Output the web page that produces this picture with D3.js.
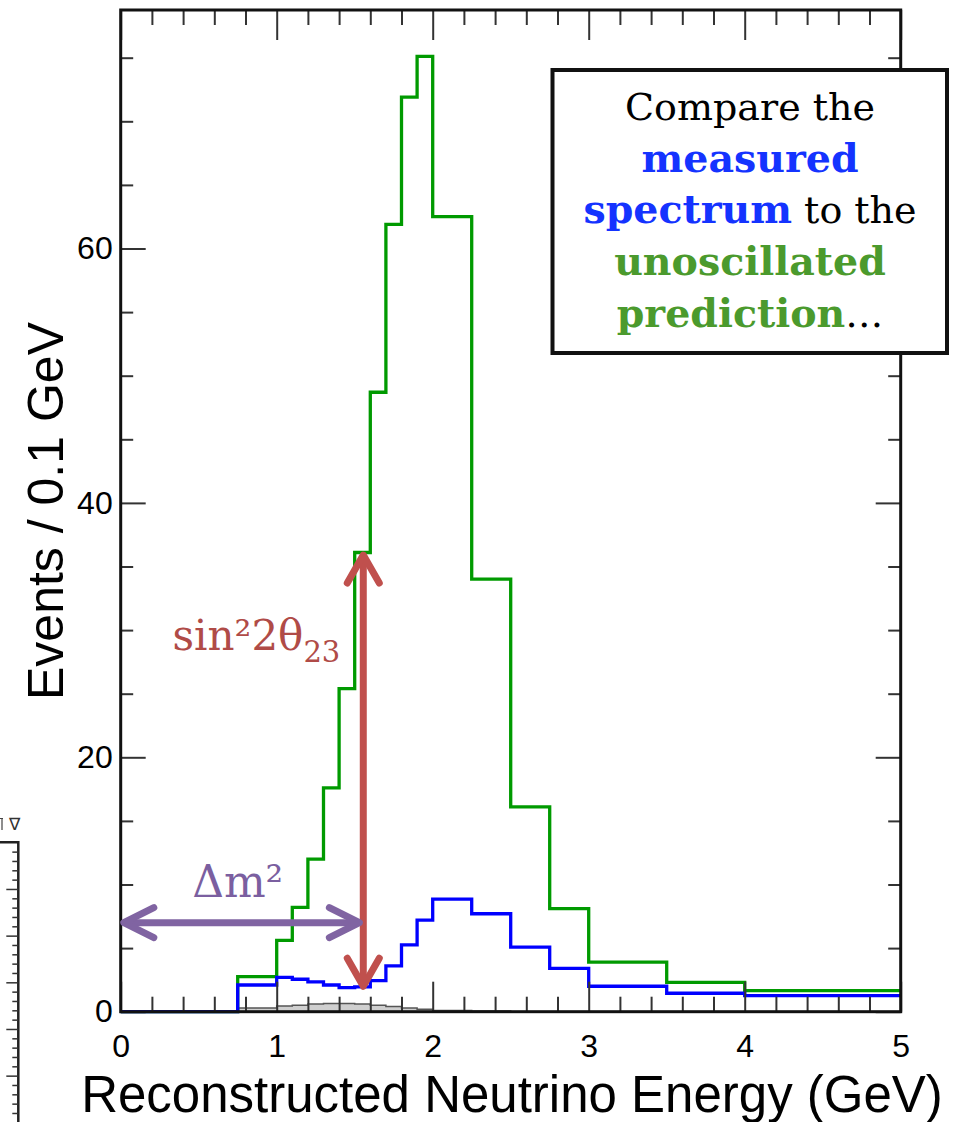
<!DOCTYPE html>
<html>
<head>
<meta charset="utf-8">
<script src="https://cdn.jsdelivr.net/npm/d3@7"></script>
<style>
  html, body { margin: 0; padding: 0; background: #fff; }
  svg { display: block; }
</style>
</head>
<body>
<svg id="chart" width="953" height="1122"></svg>
<script>
// ---------------- DATA ----------------
const binEdges = [0, 0.75, 1.0, 1.1, 1.2, 1.3, 1.4, 1.5, 1.6, 1.7, 1.8, 1.9, 2.0, 2.25, 2.5, 2.75, 3.0, 3.5, 4.0, 5.0];
const unoscillated = [0, 2.75, 5.6, 8.2, 12.0, 17.6, 25.4, 36.1, 48.7, 61.9, 71.9, 75.1, 62.5, 34.0, 16.1, 8.1, 3.9, 2.3, 1.65];
const measured     = [0, 2.1, 2.7, 2.55, 2.35, 2.1, 1.9, 1.95, 2.45, 3.6, 5.25, 7.2, 8.85, 7.7, 5.07, 3.4, 2.0, 1.45, 1.26];
const background   = [0, 0.3, 0.45, 0.5, 0.6, 0.65, 0.65, 0.6, 0.5, 0.4, 0.3, 0.2, 0.1, 0.05, 0, 0, 0, 0, 0];
const xMajorTicks = [0, 1, 2, 3, 4, 5];
const xTickLabels = ["0", "1", "2", "3", "4", "5"];
const yMajorTicks = [0, 20, 40, 60];
const yTickLabels = ["0", "20", "40", "60"];
const xLabel = "Reconstructed Neutrino Energy (GeV)";
const yLabel = "Events / 0.1 GeV";
// annotation anchors (data units)
const dmArrow = { x0: 0.02, x1: 1.53, y: 7.0 };
const sinArrow = { x: 1.555, y0: 2.0, y1: 35.9 };

// ---------------- SETUP ----------------
const svg = d3.select("#chart");
const X0 = 120.7, X1 = 900.7, Y0 = 1011.7, Y1 = 10;
const x = d3.scaleLinear().domain([0, 5]).range([X0, X1]);
const y = d3.scaleLinear().domain([0, 78.75]).range([Y0, Y1]);

const stepPoints = vals => {
  const pts = [];
  vals.forEach((v, i) => { pts.push([binEdges[i], v]); pts.push([binEdges[i + 1], v]); });
  return pts;
};
const line = d3.line().x(d => x(d[0])).y(d => y(d[1]));
const area = d3.area().x(d => x(d[0])).y0(y(0)).y1(d => y(d[1]));

// ---------------- HISTOGRAMS ----------------
svg.append("path").attr("d", area(stepPoints(background)))
  .attr("fill", "#cfcfcf").attr("stroke", "#555").attr("stroke-width", 1.5);
svg.append("path").attr("d", line(stepPoints(unoscillated)))
  .attr("fill", "none").attr("stroke", "#009a00").attr("stroke-width", 3.3);
svg.append("path").attr("d", line(stepPoints(measured)))
  .attr("fill", "none").attr("stroke", "#0000ff").attr("stroke-width", 3.3);

// ---------------- AXES ----------------
const tickColor = "#333";
function styleAxis(g) {
  g.select(".domain").remove();
  g.selectAll(".tick line").attr("stroke", tickColor).attr("stroke-width", 2);
  g.selectAll(".tick text").attr("fill", "#000").attr("font-family", "'Liberation Sans', Arial, sans-serif").attr("font-size", 32);
}
const xMinor = d3.range(0, 5.0001, 0.2).filter(v => Math.abs(v - Math.round(v)) > 1e-6);
const yMinor = d3.range(0, 78, 5).filter(v => v % 20 !== 0);

// bottom
svg.append("g").attr("transform", `translate(0,${Y0})`)
  .call(d3.axisBottom(x).tickValues(xMajorTicks).tickSize(-30).tickPadding(23).tickFormat((d, i) => xTickLabels[i]))
  .call(styleAxis);
svg.append("g").attr("transform", `translate(0,${Y0})`)
  .call(d3.axisBottom(x).tickValues(xMinor).tickSize(-15).tickFormat(""))
  .call(styleAxis);
// top
svg.append("g").attr("transform", `translate(0,${Y1})`)
  .call(d3.axisTop(x).tickValues(xMajorTicks).tickSize(-30).tickFormat(""))
  .call(styleAxis);
svg.append("g").attr("transform", `translate(0,${Y1})`)
  .call(d3.axisTop(x).tickValues(xMinor).tickSize(-15).tickFormat(""))
  .call(styleAxis);
// left
svg.append("g").attr("transform", `translate(${X0},0)`)
  .call(d3.axisLeft(y).tickValues(yMajorTicks).tickSize(-25).tickPadding(8).tickFormat((d, i) => yTickLabels[i]))
  .call(styleAxis);
svg.append("g").attr("transform", `translate(${X0},0)`)
  .call(d3.axisLeft(y).tickValues(yMinor).tickSize(-12.5).tickFormat(""))
  .call(styleAxis);
// right
svg.append("g").attr("transform", `translate(${X1},0)`)
  .call(d3.axisRight(y).tickValues(yMajorTicks).tickSize(-25).tickFormat(""))
  .call(styleAxis);
svg.append("g").attr("transform", `translate(${X1},0)`)
  .call(d3.axisRight(y).tickValues(yMinor).tickSize(-12.5).tickFormat(""))
  .call(styleAxis);

// frame
svg.append("rect").attr("x", X0).attr("y", Y1).attr("width", X1 - X0).attr("height", Y0 - Y1)
  .attr("fill", "none").attr("stroke", "#111").attr("stroke-width", 3);

// axis titles
svg.append("text").attr("x", 512).attr("y", 1112).attr("text-anchor", "middle")
  .attr("font-family", "'Liberation Sans', Arial, sans-serif").attr("font-size", 51).attr("fill", "#000")
  .text(xLabel);
svg.append("text").attr("transform", "translate(63,511) rotate(-90)").attr("text-anchor", "middle")
  .attr("font-family", "'Liberation Sans', Arial, sans-serif").attr("font-size", 50).attr("fill", "#000")
  .text(yLabel);

// ---------------- ANNOTATIONS ----------------
const red = "#c0504d", purple = "#8064a2";
// vertical red double arrow
{
  const ax = x(sinArrow.x), ya = y(sinArrow.y1), yb = y(sinArrow.y0);
  const g = svg.append("g").attr("stroke", red).attr("stroke-width", 7).attr("fill", "none")
    .attr("stroke-linecap", "round").attr("stroke-linejoin", "round");
  g.append("line").attr("x1", ax).attr("x2", ax).attr("y1", ya + 3).attr("y2", yb - 3);
  g.append("path").attr("d", `M${ax - 16},${ya + 28}L${ax},${ya}L${ax + 16},${ya + 28}`);
  g.append("path").attr("d", `M${ax - 16},${yb - 28}L${ax},${yb}L${ax + 16},${yb - 28}`);
}
// horizontal purple double arrow
{
  const ay = y(dmArrow.y), xa = x(dmArrow.x0), xb = x(dmArrow.x1);
  const g = svg.append("g").attr("stroke", purple).attr("stroke-width", 7).attr("fill", "none")
    .attr("stroke-linecap", "round").attr("stroke-linejoin", "round");
  g.append("line").attr("x1", xa + 3).attr("x2", xb - 3).attr("y1", ay).attr("y2", ay);
  g.append("path").attr("d", `M${xa + 30},${ay - 15}L${xa},${ay}L${xa + 30},${ay + 15}`);
  g.append("path").attr("d", `M${xb - 30},${ay - 15}L${xb},${ay}L${xb - 30},${ay + 15}`);
}
// labels
svg.append("text").attr("x", x(0.75)).attr("y", y(9.0)).attr("text-anchor", "middle")
  .attr("font-family", "'DejaVu Serif', serif").attr("font-size", 44).attr("fill", "#7b5fa0")
  .text("Δm²");
{
  const t = svg.append("text").attr("x", x(0.87)).attr("y", y(28.4)).attr("text-anchor", "middle")
    .attr("font-family", "'DejaVu Serif', serif").attr("font-size", 42).attr("fill", "#b04b47");
  t.append("tspan").text("sin²2θ");
  t.append("tspan").attr("font-size", 29).attr("dy", 12).text("23");
}

// ---------------- TEXT BOX ----------------
svg.append("rect").attr("x", 552.5).attr("y", 70).attr("width", 394.5).attr("height", 283)
  .attr("fill", "#fff").attr("stroke", "#111").attr("stroke-width", 4);
const blueT = "#1433ff", greenT = "#4b9a2d";
const boxLines = [
  [["Compare the", "#000", "normal", 38]],
  [["measured", blueT, "bold", 39.5]],
  [["spectrum", blueT, "bold", 39.5], [" to the", "#000", "normal", 38]],
  [["unoscillated", greenT, "bold", 39.5]],
  [["prediction", greenT, "bold", 39.5], ["…", "#000", "normal", 38]]
];
const baselines = [120, 172, 223, 275, 327];
boxLines.forEach((parts, i) => {
  const t = svg.append("text").attr("x", 750).attr("y", baselines[i]).attr("text-anchor", "middle")
    .attr("font-family", "'DejaVu Serif', serif").attr("xml:space", "preserve");
  parts.forEach(p => t.append("tspan").attr("fill", p[1]).attr("font-weight", p[2]).attr("font-size", p[3]).text(p[0]));
});

// ---------------- CROPPED NEIGHBOUR PANEL (left edge) ----------------
{
  const yn = d3.scaleLinear().domain([0, 6]).range([842.3, 842.3 + 6 * 46.67]);
  const g = svg.append("g");
  g.append("path").attr("d", `M0,${yn(0)}H18.3V1122`).attr("fill", "none").attr("stroke", "#222").attr("stroke-width", 2.5);
  const ax = g.append("g").attr("transform", "translate(18.3,0)");
  ax.call(d3.axisLeft(yn).tickValues([1, 2, 3, 4, 5]).tickSize(12).tickFormat(""));
  ax.call(gg => gg.select(".domain").remove());
  const ax2 = g.append("g").attr("transform", "translate(18.3,0)");
  ax2.call(d3.axisLeft(yn).tickValues(d3.range(0.2, 6, 0.2).filter(v => Math.abs(v - Math.round(v)) > 1e-6)).tickSize(6).tickFormat(""));
  ax2.call(gg => gg.select(".domain").remove());
  g.selectAll(".tick line").attr("stroke", "#333").attr("stroke-width", 1.5);
  // fragment of a cut-off glyph at the very edge
  g.append("path").attr("d", "M0,818.5H3M2,818.5V830").attr("fill", "none").attr("stroke", "#444").attr("stroke-width", 1.2);
  g.append("text").attr("x", 9).attr("y", 830).attr("font-family", "'DejaVu Sans', sans-serif")
    .attr("font-size", 17).attr("fill", "#333").text("∇");
}
</script>
</body>
</html>
